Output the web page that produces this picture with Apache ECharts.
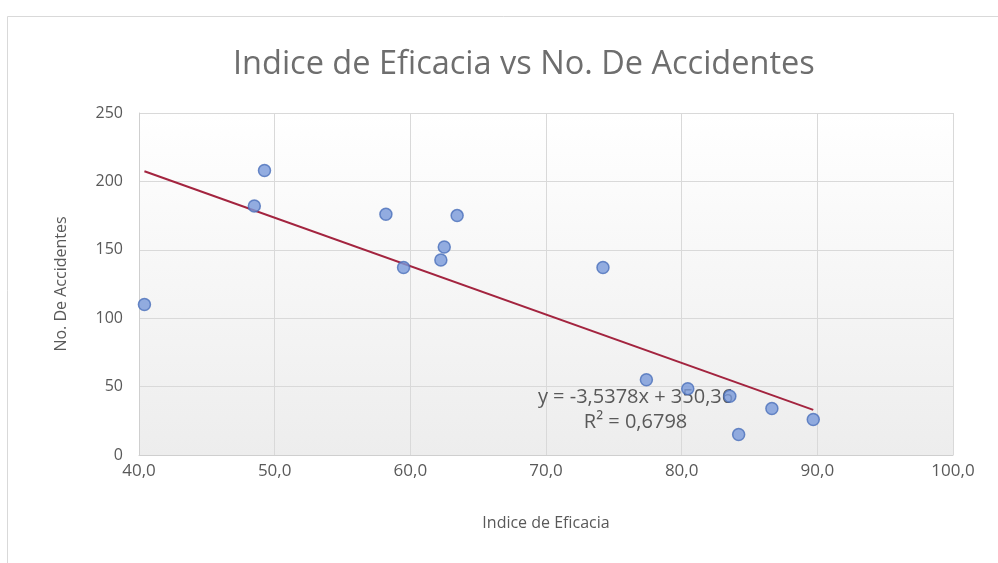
<!DOCTYPE html>
<html>
<head>
<meta charset="utf-8">
<script src="https://cdn.jsdelivr.net/npm/echarts@6/dist/echarts.min.js"></script>
<style>
  html, body { margin: 0; padding: 0; background: #ffffff; }
  #chart { width: 998px; height: 563px; }
</style>
</head>
<body>
<div id="chart"></div>
<script>
// Índice de eficacia (x) y número de accidentes (y) por registro
const indiceEficacia = [40.4, 48.5, 49.25, 58.2, 59.5, 62.25, 62.5, 63.45, 74.2, 77.4, 80.45, 83.55, 84.2, 86.65, 89.7];
const noAccidentes   = [110, 182, 208, 176, 137, 142.5, 152, 175, 137, 55, 48.5, 43, 15, 34, 26];

// Línea de tendencia lineal (ajuste de mínimos cuadrados)
const pendiente = -3.5378;
const intercepto = 350.36;
const etiquetaEcuacion = 'y = -3,5378x + 350,36';
const etiquetaR2 = 'R² = 0,6798';

const xMin = Math.min(...indiceEficacia);
const xMax = Math.max(...indiceEficacia);
const tendencia = [
  [xMin, pendiente * xMin + intercepto],
  [xMax, pendiente * xMax + intercepto]
];

const FONT = '"Open Sans", Lato, sans-serif';
const TXT = '#595959';

const chart = echarts.init(document.getElementById('chart'));
const fmt = v => v.toFixed(1).replace('.', ',');

chart.setOption({
  animation: false,
  backgroundColor: '#ffffff',
  title: {
    text: 'Indice de Eficacia vs No. De Accidentes',
    left: 228,
    top: 43,
    textStyle: { fontFamily: FONT, fontSize: 32.5, fontWeight: 'normal', color: '#6e6e6e' }
  },
  grid: {
    left: 139, right: 45, top: 113, bottom: 108,
    show: true,
    borderWidth: 0,
    backgroundColor: new echarts.graphic.LinearGradient(0, 0, 0, 1, [
      { offset: 0, color: '#ffffff' },
      { offset: 1, color: '#ededed' }
    ])
  },
  xAxis: {
    type: 'value',
    min: 40, max: 100, interval: 10,
    name: 'Indice de Eficacia',
    nameLocation: 'middle',
    nameGap: 60,
    nameTextStyle: { fontFamily: FONT, fontSize: 16, color: TXT },
    axisLine: { show: true, lineStyle: { color: '#cfcfcf', width: 1 } },
    axisTick: { show: false },
    axisLabel: { formatter: fmt, fontFamily: FONT, fontSize: 17, color: TXT, margin: 8 },
    splitLine: { show: true, lineStyle: { color: '#d9d9d9', width: 1 } }
  },
  yAxis: {
    type: 'value',
    min: 0, max: 250, interval: 50,
    name: 'No. De Accidentes',
    nameLocation: 'middle',
    nameGap: 70,
    nameRotate: 90,
    nameTextStyle: { fontFamily: FONT, fontSize: 16, color: TXT },
    axisLine: { show: true, lineStyle: { color: '#cfcfcf', width: 1 } },
    axisTick: { show: false },
    axisLabel: { fontFamily: FONT, fontSize: 16, color: TXT, margin: 16 },
    splitLine: { show: true, lineStyle: { color: '#d9d9d9', width: 1 } }
  },
  series: [
    {
      type: 'line',
      data: tendencia,
      symbol: 'none',
      z: 2,
      lineStyle: { color: '#a3243f', width: 2 }
    },
    {
      type: 'scatter',
      data: indiceEficacia.map((x, i) => [x, noAccidentes[i]]),
      symbol: 'circle',
      symbolSize: 12,
      z: 4,
      itemStyle: { color: '#7898da', borderColor: '#4a6fba', borderWidth: 1.5 }
    }
  ]
});

// Etiqueta de la ecuación de tendencia, anclada en coordenadas de datos
const pos = chart.convertToPixel({ gridIndex: 0 }, [76.6, 33.3]);
chart.setOption({
  graphic: [
    {
      type: 'rect',
      left: 5, top: 14, z: 0, silent: true,
      shape: { width: 1000, height: 600 },
      style: { fill: 'none', stroke: '#d9d9d9', lineWidth: 1 }
    },
    {
      type: 'text',
      x: pos[0], y: pos[1], z: 3, silent: true,
      style: {
        text: etiquetaEcuacion + '\n' + etiquetaR2,
        fill: TXT, font: '20px ' + FONT,
        align: 'center', verticalAlign: 'middle', lineHeight: 25
      }
    }
  ]
});
</script>
</body>
</html>
